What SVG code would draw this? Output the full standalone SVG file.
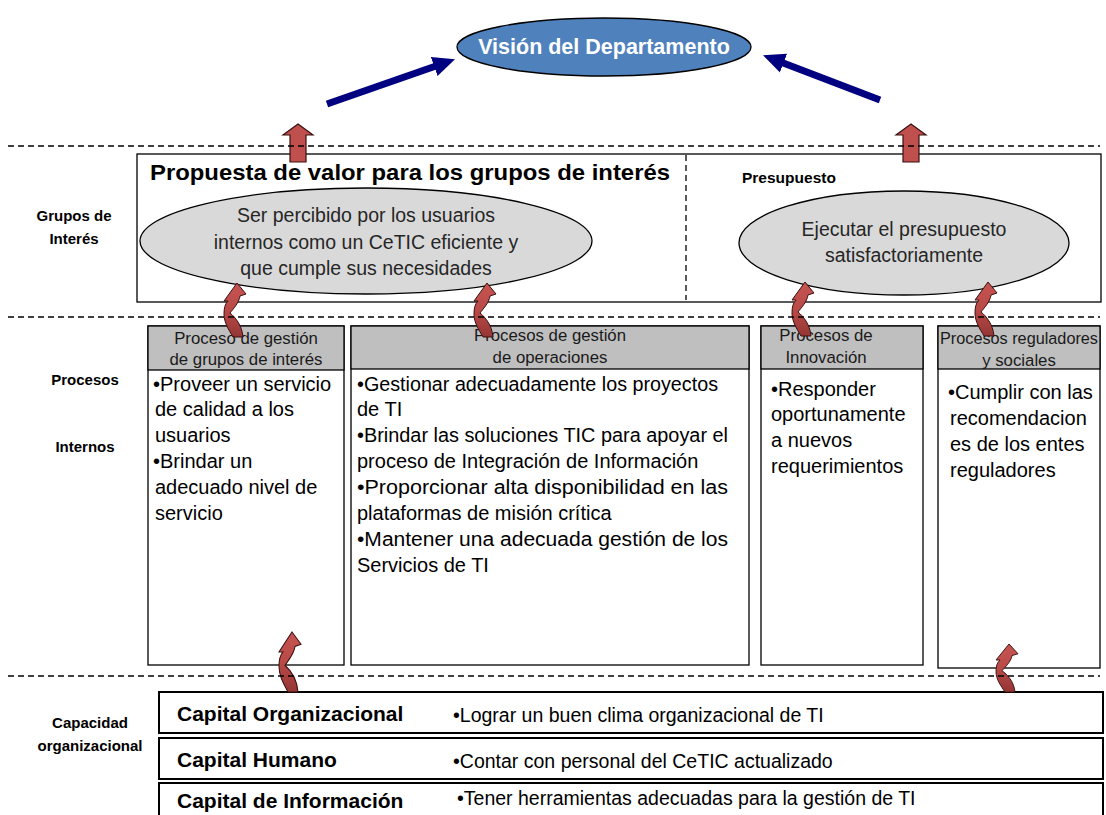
<svg xmlns="http://www.w3.org/2000/svg" width="1106" height="815" viewBox="0 0 1106 815">
<style>
text{font-family:"Liberation Sans",Arial,sans-serif;fill:#000}
.b{font-weight:bold}
.box{fill:#fff;stroke:#000;stroke-width:1.3}
.hdr{fill:#bfbfbf;stroke:#000;stroke-width:1.3}
.ell{fill:#d9d9d9;stroke:#000;stroke-width:1.3}
.dash{stroke:#000;stroke-width:1.3;stroke-dasharray:6,4;fill:none}
.ht{font-size:16.8px;text-anchor:middle;fill:#1a1a1a}
.bt{font-size:20px;fill:#000}
.et{font-size:19.5px;text-anchor:middle;fill:#262626}
.lab{font-size:15px;font-weight:bold;text-anchor:middle}
.cap{fill:#fff;stroke:#000;stroke-width:2}
.ct{font-size:21px;font-weight:bold}
.cr{font-size:19.5px}
.nav{stroke:#000080;stroke-width:7;fill:none;marker-end:url(#navhead)}
.blk{fill:#c0504d;stroke:#3a1010;stroke-width:1.2}
</style>
<defs>
<marker id="navhead" markerUnits="userSpaceOnUse" markerWidth="24" markerHeight="22" viewBox="0 -11 24 22" refX="1" refY="0" orient="auto">
<path d="M0,-10 L22,0 L0,10 z" fill="#000080"/>
</marker>
<linearGradient id="curlg" x1="0" y1="0" x2="0" y2="1">
<stop offset="0" stop-color="#c65452"/>
<stop offset="0.5" stop-color="#b94a47"/>
<stop offset="1" stop-color="#943634"/>
</linearGradient>
<path id="curl" d="M0,0 L9,11 L3,13 C2,20 -4,26 -7,30 C-2,34 5,42 6,54 L-4,54 C-8,47 -13,40 -13,31 C-13,25 -12,21 -9,18 L-13,18 Z" fill="url(#curlg)" stroke="#3a1010" stroke-width="1"/>
</defs>
<rect width="1106" height="815" fill="#fff"/>

<g id="vision">
<ellipse cx="604" cy="47" rx="147" ry="29" fill="#4f81bd" stroke="#000" stroke-width="1.3"/>
<text x="604" y="54" text-anchor="middle" class="b" style="font-size:21.5px;fill:#fff">Visión del Departamento</text>
</g>

<g id="labels">
<text x="74" y="221" class="lab">Grupos de</text>
<text x="74" y="244" class="lab">Interés</text>
<text x="85" y="385" class="lab">Procesos</text>
<text x="85" y="452" class="lab">Internos</text>
<text x="90" y="728" class="lab">Capacidad</text>
<text x="90" y="751" class="lab">organizacional</text>
</g>

<g id="grupos">
<rect x="137" y="154" width="964" height="148" class="box"/>
<line x1="686" y1="155" x2="686" y2="300" class="dash"/>
<text x="150" y="180" class="b" style="font-size:22px" textLength="520" lengthAdjust="spacingAndGlyphs">Propuesta de valor para los grupos de interés</text>
<text x="742" y="183" class="b" style="font-size:15.5px">Presupuesto</text>
</g>

<g id="ellipse-usuarios">
<ellipse cx="366" cy="241" rx="226" ry="53" class="ell"/>
<text x="366" y="222" class="et">Ser percibido por los usuarios</text>
<text x="366" y="249" class="et">internos como un CeTIC eficiente y</text>
<text x="366" y="275" class="et">que cumple sus necesidades</text>
</g>

<g id="ellipse-presupuesto">
<ellipse cx="904" cy="243" rx="165" ry="52" class="ell"/>
<text x="904" y="236" class="et">Ejecutar el presupuesto</text>
<text x="904" y="262" class="et">satisfactoriamente</text>
</g>

<g id="proc-grupos">
<rect x="148" y="326" width="196" height="339" class="box"/>
<rect x="148" y="326" width="196" height="44" class="hdr"/>
<text x="246" y="344" class="ht">Proceso de gestión</text>
<text x="246" y="365" class="ht">de grupos de interés</text>
<text x="153" y="391" class="bt">•Proveer un servicio</text>
<text x="155" y="416" class="bt">de calidad a los</text>
<text x="155" y="442" class="bt">usuarios</text>
<text x="153" y="468" class="bt">•Brindar un</text>
<text x="155" y="494" class="bt">adecuado nivel de</text>
<text x="155" y="520" class="bt">servicio</text>
</g>

<g id="proc-operaciones">
<rect x="351" y="326" width="398" height="339" class="box"/>
<rect x="351" y="326" width="398" height="43" class="hdr"/>
<text x="550" y="341" class="ht">Procesos de gestión</text>
<text x="550" y="363" class="ht">de operaciones</text>
<text x="357" y="391" class="bt" textLength="361" lengthAdjust="spacingAndGlyphs">•Gestionar adecuadamente los proyectos</text>
<text x="357" y="416" class="bt">de TI</text>
<text x="357" y="442" class="bt" textLength="371" lengthAdjust="spacingAndGlyphs">•Brindar las soluciones TIC para apoyar el</text>
<text x="357" y="468" class="bt">proceso de Integración de Información</text>
<text x="357" y="494" class="bt" textLength="371" lengthAdjust="spacingAndGlyphs">•Proporcionar alta disponibilidad en las</text>
<text x="357" y="520" class="bt">plataformas de misión crítica</text>
<text x="357" y="546" class="bt" textLength="371" lengthAdjust="spacingAndGlyphs">•Mantener una adecuada gestión de los</text>
<text x="357" y="572" class="bt">Servicios de TI</text>
</g>

<g id="proc-innovacion">
<rect x="761" y="326" width="162" height="339" class="box"/>
<rect x="761" y="326" width="162" height="43" class="hdr"/>
<text x="826" y="341" class="ht">Procesos de</text>
<text x="826" y="363" class="ht">Innovación</text>
<text x="771" y="396" class="bt">•Responder</text>
<text x="771" y="421" class="bt">oportunamente</text>
<text x="771" y="447" class="bt">a nuevos</text>
<text x="771" y="473" class="bt">requerimientos</text>
</g>

<g id="proc-reguladores">
<rect x="938" y="326" width="162" height="342" class="box"/>
<rect x="938" y="326" width="162" height="43" class="hdr"/>
<text x="1019" y="344" class="ht" textLength="158" lengthAdjust="spacingAndGlyphs">Procesos reguladores</text>
<text x="1019" y="366" class="ht">y sociales</text>
<text x="948" y="399" class="bt">•Cumplir con las</text>
<text x="950" y="425" class="bt">recomendacion</text>
<text x="950" y="451" class="bt">es de los entes</text>
<text x="950" y="477" class="bt">reguladores</text>
</g>

<g id="capital-organizacional">
<rect x="159" y="692" width="944" height="41" class="cap"/>
<text x="177" y="721" class="ct">Capital Organizacional</text>
<text x="453" y="722" class="cr">•Lograr un buen clima organizacional de TI</text>
</g>
<g id="capital-humano">
<rect x="159" y="738" width="944" height="41" class="cap"/>
<text x="177" y="767" class="ct">Capital Humano</text>
<text x="453" y="768" class="cr">•Contar con personal del CeTIC actualizado</text>
</g>
<g id="capital-informacion">
<rect x="159" y="783" width="944" height="40" class="cap"/>
<text x="177" y="808" class="ct">Capital de Información</text>
<text x="457" y="805" class="cr">•Tener herramientas adecuadas para la gestión de TI</text>
</g>

<g id="connectors">
<line x1="327" y1="104" x2="435.2" y2="66.2" class="nav"/>
<line x1="880" y1="100" x2="782.6" y2="62.8" class="nav"/>
<polygon points="298,124 313,135 306,135 306,162 290,162 290,135 283,135" class="blk"/>
<polygon points="911,124 926,135 919,135 919,162 903,162 903,135 896,135" class="blk"/>
<use href="#curl" transform="translate(237,283)"/>
<use href="#curl" transform="translate(487,283)"/>
<use href="#curl" transform="translate(805,282)"/>
<use href="#curl" transform="translate(988,282)"/>
<use href="#curl" transform="translate(292,632) scale(1,1.11)"/>
<use href="#curl" transform="translate(1009,644) scale(1,0.89)"/>
</g>

<g id="dividers">
<line x1="8" y1="146" x2="1100" y2="146" class="dash"/>
<line x1="8" y1="317" x2="1100" y2="317" class="dash"/>
<line x1="8" y1="676" x2="1100" y2="676" class="dash"/>
</g>
</svg>
